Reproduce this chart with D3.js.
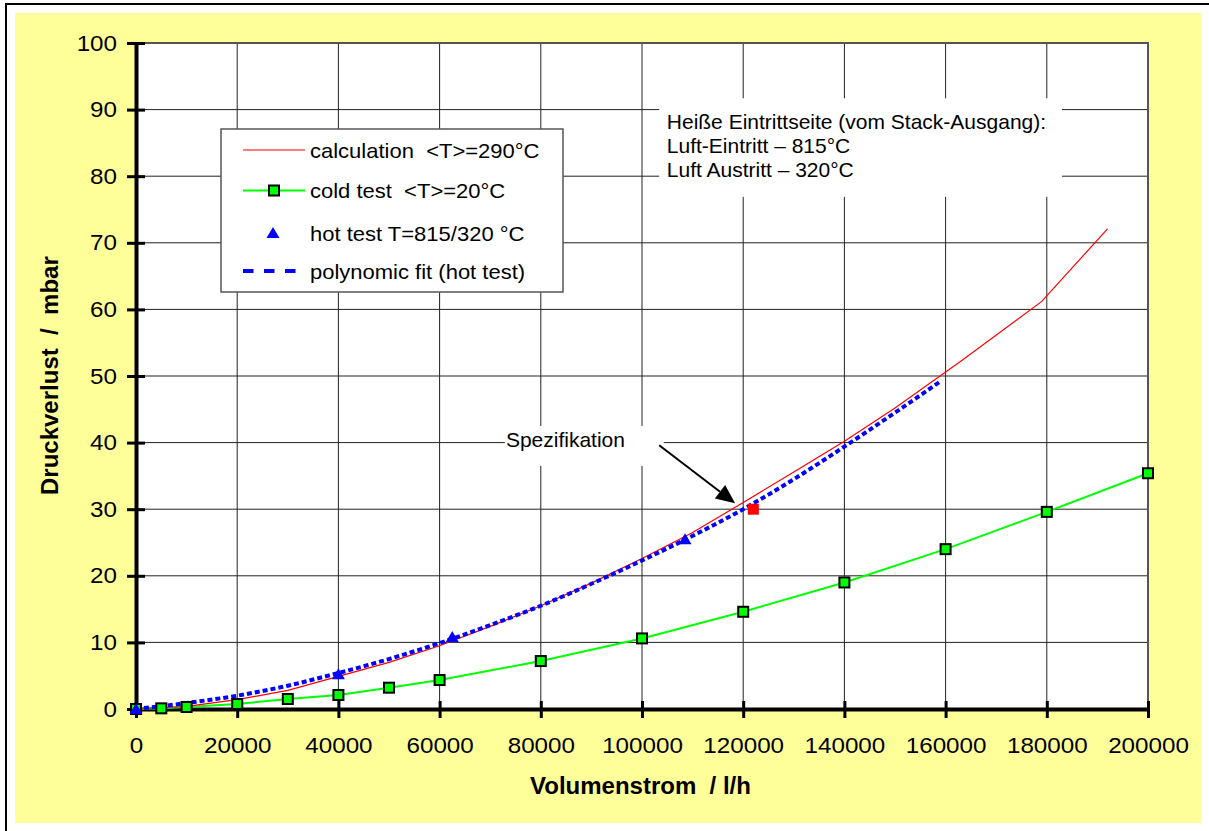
<!DOCTYPE html>
<html>
<head>
<meta charset="utf-8">
<script src="https://cdn.jsdelivr.net/npm/d3@7"></script>
<style>
  body { margin: 0; background: #fff; }
  text { font-family: "Liberation Sans", Arial, sans-serif; fill: #000; white-space: pre; }
</style>
</head>
<body>
<svg id="chart"></svg>
<script>
const svg_width = 1209;
const svg_height = 831;

// axis ticks
const xTicks = [0, 20000, 40000, 60000, 80000, 100000, 120000, 140000, 160000, 180000, 200000];
const yTicks = [0, 10, 20, 30, 40, 50, 60, 70, 80, 90, 100];

// calculation <T>=290°C
const calcX = [0, 10000, 20000, 30000, 40000, 50000, 60000, 70000, 80000, 90000, 100000,
               110000, 120000, 130000, 140000, 150000, 163000, 179000, 192000];
const calcY = [0, 0.4, 1.4, 2.8, 4.9, 7.0, 9.5, 12.4, 15.5, 18.9, 22.6,
               26.5, 31.0, 35.6, 40.2, 45.2, 52.2, 61.2, 72.1];

// cold test <T>=20°C
const coldX = [0, 5000, 10000, 20000, 30000, 40000, 50000, 60000, 80000, 100000, 120000, 140000, 160000, 180000, 200000];
const coldY = [0, 0.1, 0.3, 0.75, 1.5, 2.1, 3.2, 4.35, 7.2, 10.6, 14.6, 19.0, 24.0, 29.6, 35.4];

// hot test T=815/320 °C
const hotX = [0, 40000, 62500, 108500];
const hotY = [0, 5.2, 10.8, 25.5];

// polynomic fit (hot test)
const fitX = [0, 10000, 20000, 30000, 40000, 50000, 60000, 70000, 80000, 90000, 100000,
              110000, 120000, 130000, 140000, 150000, 159000];
const fitY = [0, 0.9, 2.0, 3.5, 5.4, 7.5, 9.9, 12.6, 15.5, 18.8, 22.3,
              26.0, 30.0, 34.5, 39.4, 44.5, 49.2];

// specification point
const specX = [122000];
const specY = [30];

const seriesNames = ["calculation  <T>=290°C", "cold test  <T>=20°C", "hot test T=815/320 °C", "polynomic fit (hot test)"];
const noteLines = ["Heiße Eintrittseite (vom Stack-Ausgang):", "Luft-Eintritt – 815°C", "Luft Austritt – 320°C"];

const zip = (xs, ys) => xs.map((d, i) => [d, ys[i]]);

var plot = { left: 136, right: 1148, top: 43, bottom: 709 };

var svg = d3.select("svg#chart")
    .attr("width", svg_width)
    .attr("height", svg_height);

var x = d3.scaleLinear().domain([0, 200000]).range([plot.left, plot.right]);
var y = d3.scaleLinear().domain([0, 100]).range([plot.bottom, plot.top]);

// frame + background
svg.append("rect")
    .attr("x", 6).attr("y", 4)
    .attr("width", 1215).attr("height", 840)
    .attr("fill", "#fff").attr("stroke", "#000").attr("stroke-width", 2);

svg.append("rect")
    .attr("x", 15).attr("y", 13)
    .attr("width", 1186).attr("height", 810)
    .attr("fill", "#ffff99");

svg.append("rect")
    .attr("x", plot.left).attr("y", plot.top)
    .attr("width", plot.right - plot.left).attr("height", plot.bottom - plot.top)
    .attr("fill", "#fff");

// grid
svg.append("g").selectAll("line")
    .data(xTicks.slice(1))
    .enter().append("line")
    .attr("x1", d => x(d)).attr("x2", d => x(d))
    .attr("y1", plot.top).attr("y2", plot.bottom)
    .attr("stroke", "#222").attr("stroke-width", 1);

svg.append("g").selectAll("line")
    .data(yTicks.slice(1))
    .enter().append("line")
    .attr("x1", plot.left).attr("x2", plot.right)
    .attr("y1", d => y(d)).attr("y2", d => y(d))
    .attr("stroke", "#222").attr("stroke-width", 1);

// top / right border of plot area
svg.append("path")
    .attr("d", `M${plot.left},${plot.top}H${plot.right}V${plot.bottom}`)
    .attr("fill", "none").attr("stroke", "#555").attr("stroke-width", 2);

// annotation: hot side
var nx0 = x(103400), nx1 = x(183000), ny0 = y(91.7), ny1 = y(76.9);
svg.append("rect")
    .attr("x", nx0).attr("y", ny0)
    .attr("width", nx1 - nx0).attr("height", ny1 - ny0)
    .attr("fill", "#fff");

svg.append("g").selectAll("text")
    .data(noteLines)
    .enter().append("text")
    .attr("x", x(104900))
    .attr("y", (d, i) => y(87.1) + i * 24)
    .style("font-size", "21px")
    .text(d => d);

// annotation: Spezifikation
var sx0 = x(72900), sx1 = x(104300), sy0 = y(42.5), sy1 = y(36.5);
svg.append("rect")
    .attr("x", sx0).attr("y", sy0)
    .attr("width", sx1 - sx0).attr("height", sy1 - sy0)
    .attr("fill", "#fff");

svg.append("text")
    .attr("x", x(73100)).attr("y", y(39.3))
    .style("font-size", "21px")
    .text("Spezifikation");

var a0 = [x(103400), y(39.6)], a1 = [x(118400), y(30.9)];
var ang = Math.atan2(a1[1] - a0[1], a1[0] - a0[0]);
var headLen = 19, headW = 8.5;
var base = [a1[0] - headLen * Math.cos(ang), a1[1] - headLen * Math.sin(ang)];
svg.append("line")
    .attr("x1", a0[0]).attr("y1", a0[1])
    .attr("x2", base[0]).attr("y2", base[1])
    .attr("stroke", "#000").attr("stroke-width", 2);
svg.append("path")
    .attr("d", "M" + a1 + "L" + [base[0] + headW * Math.sin(ang), base[1] - headW * Math.cos(ang)]
        + "L" + [base[0] - headW * Math.sin(ang), base[1] + headW * Math.cos(ang)] + "Z")
    .attr("fill", "#000");

// axes
var xAxis = d3.axisBottom(x)
    .tickValues(xTicks)
    .tickFormat(d3.format("d"))
    .tickSize(9).tickSizeOuter(0)
    .tickPadding(19);

var gx = svg.append("g")
    .attr("transform", "translate(0," + y(0) + ")")
    .call(xAxis);
gx.select(".domain").attr("stroke", "#000").attr("stroke-width", 4);
gx.selectAll(".tick line").attr("y1", -8).attr("stroke", "#000").attr("stroke-width", 3);
gx.selectAll(".tick text")
    .attr("fill", "#000")
    .style("font-family", '"Liberation Sans", Arial, sans-serif')
    .style("font-size", "22px")
    .attr("transform", "scale(1.1,1)");

var yAxis = d3.axisLeft(y)
    .tickValues(yTicks)
    .tickFormat(d3.format("d"))
    .tickSize(9).tickSizeOuter(0);

var gy = svg.append("g")
    .attr("transform", "translate(" + x(0) + ",0)")
    .call(yAxis);
gy.select(".domain").attr("stroke", "#000").attr("stroke-width", 4);
gy.selectAll(".tick line").attr("x1", 9).attr("stroke", "#000").attr("stroke-width", 3);
gy.selectAll(".tick text")
    .attr("fill", "#000")
    .attr("x", -17.3)
    .style("font-family", '"Liberation Sans", Arial, sans-serif')
    .style("font-size", "22px")
    .attr("transform", "scale(1.1,1)");

// axis titles
svg.append("text")
    .attr("x", 530).attr("y", 794)
    .style("font-size", "24px").style("font-weight", "bold")
    .text("Volumenstrom  / l/h");

svg.append("text")
    .attr("transform", "translate(58,495) rotate(-90)")
    .style("font-size", "24px").style("font-weight", "bold")
    .text("Druckverlust  /  mbar");

// series
var line = d3.line().x(d => x(d[0])).y(d => y(d[1]));

svg.append("path")
    .datum(zip(coldX, coldY))
    .attr("d", line)
    .attr("fill", "none").attr("stroke", "#00ff00").attr("stroke-width", 2);

svg.append("path")
    .datum(zip(calcX, calcY))
    .attr("d", line)
    .attr("fill", "none").attr("stroke", "#ff0000").attr("stroke-width", 1.2);

svg.append("path")
    .datum(zip(fitX, fitY))
    .attr("d", line.curve(d3.curveMonotoneX))
    .attr("fill", "none").attr("stroke", "#0000ff")
    .attr("stroke-width", 4).attr("stroke-dasharray", "5,3");

svg.append("g").selectAll("rect")
    .data(zip(coldX, coldY))
    .enter().append("rect")
    .attr("x", d => x(d[0]) - 5).attr("y", d => y(d[1]) - 5)
    .attr("width", 10).attr("height", 10)
    .attr("fill", "#00ff00").attr("stroke", "#000").attr("stroke-width", 2);

var tri = "M0,-6L6.5,5L-6.5,5Z";
svg.append("g").selectAll("path")
    .data(zip(hotX, hotY))
    .enter().append("path")
    .attr("d", tri)
    .attr("transform", d => "translate(" + x(d[0]) + "," + y(d[1]) + ")")
    .attr("fill", "#0000ff");

svg.append("g").selectAll("rect")
    .data(zip(specX, specY))
    .enter().append("rect")
    .attr("x", d => x(d[0]) - 5.5).attr("y", d => y(d[1]) - 5.5)
    .attr("width", 11).attr("height", 11)
    .attr("fill", "#ff0000");

// legend
var lg = svg.append("g").attr("transform", "translate(221,129)");
lg.append("rect")
    .attr("x", 0).attr("y", 0)
    .attr("width", 342).attr("height", 163)
    .attr("fill", "#fff").attr("stroke", "#555").attr("stroke-width", 1.5);

var rowY = [21, 61.5, 104, 142];
lg.append("line").attr("x1", 22).attr("x2", 84).attr("y1", rowY[0]).attr("y2", rowY[0])
    .attr("stroke", "#ff0000").attr("stroke-width", 1.2);
lg.append("line").attr("x1", 22).attr("x2", 84).attr("y1", rowY[1]).attr("y2", rowY[1])
    .attr("stroke", "#00ff00").attr("stroke-width", 2);
lg.append("rect").attr("x", 48).attr("y", rowY[1] - 5).attr("width", 10).attr("height", 10)
    .attr("fill", "#00ff00").attr("stroke", "#000").attr("stroke-width", 2);
lg.append("path").attr("d", tri).attr("transform", "translate(52," + rowY[2] + ")")
    .attr("fill", "#0000ff");
lg.append("line").attr("x1", 22).attr("x2", 76).attr("y1", rowY[3]).attr("y2", rowY[3])
    .attr("stroke", "#0000ff").attr("stroke-width", 4).attr("stroke-dasharray", "10.5,10.5");

lg.selectAll("text.lab")
    .data(seriesNames)
    .enter().append("text")
    .attr("class", "lab")
    .attr("transform", (d, i) => "translate(89," + (rowY[i] + 7.5) + ") scale(1.1,1)")
    .style("font-size", "20px")
    .text(d => d);
</script>
</body>
</html>
